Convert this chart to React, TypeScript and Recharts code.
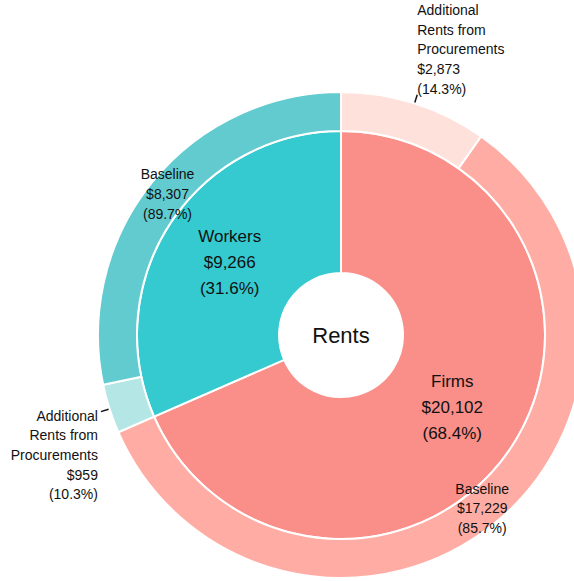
import React from 'react';
import { PieChart, Pie, Cell } from 'recharts';

const groupNames = ['Firms', 'Workers'];
const groupValues = [20102, 9266];
const groupColors = ['#F98F88', '#34CAD0'];

const subNames = ['Additional\nRents from\nProcurements', 'Baseline', 'Additional\nRents from\nProcurements', 'Baseline'];
const subParents = ['Firms', 'Firms', 'Workers', 'Workers'];
const subValues = [2873, 17229, 959, 8307];
const subColors = ['#FFE1DC', '#FFADA4', '#B4E6E6', '#62CBCF'];
const subOutside = [true, false, true, false];

const centerTitle = 'Rents';

const total = groupValues.reduce((a, b) => a + b, 0);
const innerData = groupNames.map((n, i) => ({ name: n, value: groupValues[i], pct: (groupValues[i] / total) * 100 }));
const outerData = subNames.map((n, i) => {
  const parentVal = groupValues[groupNames.indexOf(subParents[i])];
  return { name: n, value: subValues[i], pct: (subValues[i] / parentVal) * 100, outside: subOutside[i] };
});

const fmt = (v: number) => '$' + v.toLocaleString('en-US');
const RAD = Math.PI / 180;
const FONT = '"Liberation Sans", Arial, sans-serif';

const innerLabel = (p: any) => {
  const { cx, cy, midAngle, innerRadius, outerRadius, index } = p;
  const d = innerData[index];
  const r = (innerRadius + outerRadius) / 2;
  const x = cx + r * Math.cos(-midAngle * RAD);
  const y = cy + r * Math.sin(-midAngle * RAD);
  const lines = [d.name, fmt(d.value), '(' + d.pct.toFixed(1) + '%)'];
  const lh = 26;
  return (
    <text x={x} y={y} textAnchor="middle" fontFamily={FONT} fontSize={17} fill="#111">
      {lines.map((l, k) => (
        <tspan key={k} x={x} y={y + (k - 1) * lh} dominantBaseline="central">{l}</tspan>
      ))}
    </text>
  );
};

const outerLabel = (p: any) => {
  const { cx, cy, midAngle, innerRadius, outerRadius, index } = p;
  const d = outerData[index];
  const lines = [...d.name.split('\n'), fmt(d.value), '(' + d.pct.toFixed(1) + '%)'];
  const lh = 19.7;
  const cos = Math.cos(-midAngle * RAD);
  const sin = Math.sin(-midAngle * RAD);
  if (!d.outside) {
    const r = (innerRadius + outerRadius) / 2;
    const x = cx + r * cos;
    const y = cy + r * sin;
    const off = (lines.length - 1) / 2;
    return (
      <text x={x} y={y} textAnchor="middle" fontFamily={FONT} fontSize={14} fill="#111">
        {lines.map((l, k) => (
          <tspan key={k} x={x} y={y + (k - off) * lh} dominantBaseline="central">{l}</tspan>
        ))}
      </text>
    );
  }
  const sx = cx + (outerRadius + 1) * cos;
  const sy = cy + (outerRadius + 1) * sin;
  const ex = cx + (outerRadius + 9) * cos;
  const ey = cy + (outerRadius + 9) * sin;
  const right = cos >= 0;
  const up = sin < 0;
  const tx = right ? ex + 0 : ex - 3;
  const firstY = up ? ey - 6 - (lines.length - 1) * lh : ey + 4;
  return (
    <g>
      <line x1={sx} y1={sy} x2={ex} y2={ey} stroke="#111" strokeWidth={1.5} />
      <text x={tx} y={firstY} textAnchor={right ? 'start' : 'end'} fontFamily={FONT} fontSize={14} fill="#111">
        {lines.map((l, k) => (
          <tspan key={k} x={tx} y={firstY + k * lh} dominantBaseline="central">{l}</tspan>
        ))}
      </text>
    </g>
  );
};

export default function App() {
  return (
    <div style={{ position: 'fixed', left: 0, top: 0, width: 574, height: 581, background: '#fff', overflow: 'hidden' }}>
      <PieChart width={574} height={581} margin={{ top: 0, right: 0, bottom: 0, left: 0 }}>
        <Pie
          data={innerData}
          dataKey="value"
          cx={341}
          cy={335}
          innerRadius={62}
          outerRadius={204}
          startAngle={90}
          endAngle={-270}
          stroke="#fff"
          strokeWidth={2}
          label={innerLabel}
          labelLine={false}
          isAnimationActive={false}
        >
          {innerData.map((_, i) => (
            <Cell key={i} fill={groupColors[i]} />
          ))}
        </Pie>
        <Pie
          data={outerData}
          dataKey="value"
          cx={341}
          cy={335}
          innerRadius={204}
          outerRadius={243}
          startAngle={90}
          endAngle={-270}
          stroke="#fff"
          strokeWidth={2}
          label={outerLabel}
          labelLine={false}
          isAnimationActive={false}
        >
          {outerData.map((_, i) => (
            <Cell key={i} fill={subColors[i]} />
          ))}
        </Pie>
        <text x={341} y={335} textAnchor="middle" dominantBaseline="central" fontFamily={FONT} fontSize={22} fill="#111">
          {centerTitle}
        </text>
      </PieChart>
    </div>
  );
}
